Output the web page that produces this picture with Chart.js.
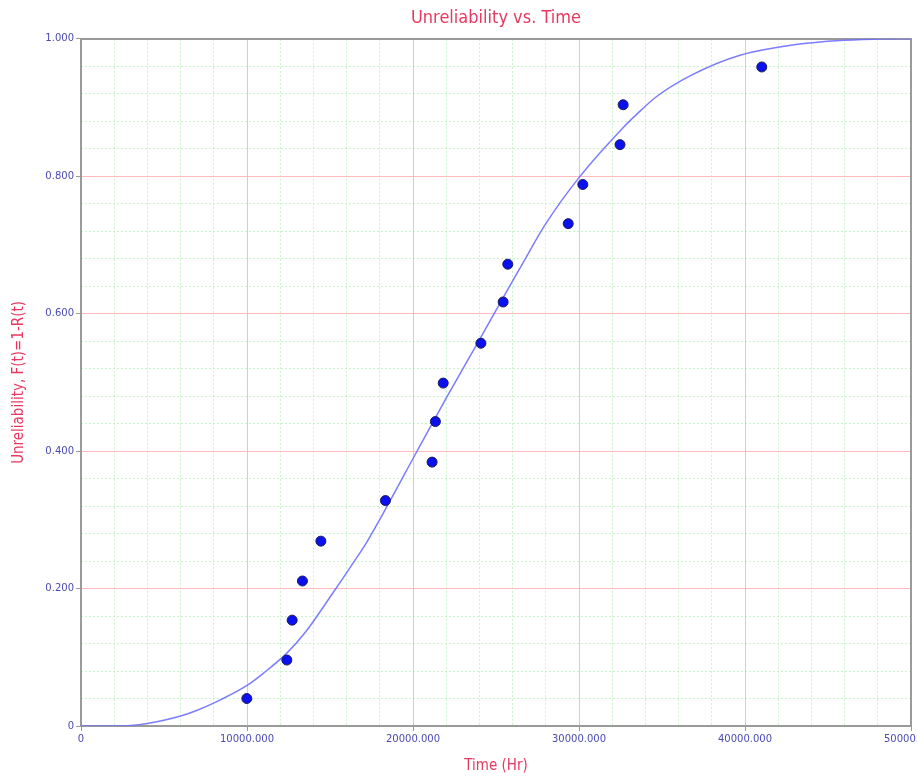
<!DOCTYPE html>
<html>
<head>
<meta charset="utf-8">
<script src="https://cdn.jsdelivr.net/npm/chart.js@4/dist/chart.umd.min.js"></script>
<style>
  html, body { margin: 0; padding: 0; background: #ffffff; }
  #wrap { width: 917px; height: 778px; position: relative; }
</style>
</head>
<body>
<div id="wrap"><canvas id="c"></canvas></div>
<script>
// ---- Data ----
const failureTimes = [9990, 12400, 12720, 13340, 14450, 18340, 21150, 21350, 21820, 24090, 25430, 25710, 29350, 30230, 32470, 32660, 41010];
const unreliability = [0.040, 0.096, 0.154, 0.211, 0.269, 0.328, 0.384, 0.443, 0.499, 0.557, 0.617, 0.672, 0.731, 0.788, 0.846, 0.904, 0.959];

const curveTimes = [0, 2300, 3500, 5000, 6000, 7000, 8400, 10000, 11000, 12400, 13500, 15100, 16500, 17200, 18400, 20200, 22000, 24000, 25400, 26600, 28000, 30000, 32670, 33470, 34680, 36690, 39700, 43700, 47700, 50000];
const curveF     = [0, 0, 0.002, 0.0085, 0.0145, 0.023, 0.038, 0.059, 0.077, 0.106, 0.136, 0.191, 0.241, 0.267, 0.318, 0.398, 0.477, 0.562, 0.622, 0.673, 0.731, 0.798, 0.871, 0.890, 0.916, 0.946, 0.976, 0.9935, 0.9995, 1.0];

const xMajorTicks = [0, 10000, 20000, 30000, 40000, 50000];
const yMajorTicks = [0, 0.2, 0.4, 0.6, 0.8, 1.0];

const titleText = 'Unreliability vs. Time';
const xTitle = 'Time (Hr)';
const yTitle = 'Unreliability, F(t)=1-R(t)';

// ---- Styling ----
const TITLE_COLOR = '#e8385f';
const TICK_COLOR = '#4a4ab4';
const MAJOR_GRID = 'rgba(255,175,175,0.85)';
const MINOR_GRID = 'rgba(195,242,195,0.9)';
const FRAME = '#9a9a9a';
const CONDENSED = 'DejaVu Sans Condensed, DejaVu Sans';

function isMajorX(v) { return xMajorTicks.some(m => Math.abs(m - v) < 1e-6); }
function isMajorY(v) { return yMajorTicks.some(m => Math.abs(m - v) < 1e-6); }

function fixW(w) { return s => { s.width = w; s.paddingTop = 0; s.paddingBottom = 0; s.paddingLeft = 0; s.paddingRight = 0; }; }
function fixH(h) { return s => { s.height = h; s.paddingLeft = 0; s.paddingRight = 0; s.paddingTop = 0; s.paddingBottom = 0; }; }

const points = failureTimes.map((t, i) => ({ x: t, y: unreliability[i] }));
const curve = curveTimes.map((t, i) => ({ x: t, y: curveF[i] }));

new Chart(document.getElementById('c'), {
  type: 'scatter',
  data: {
    datasets: [
      {
        label: 'Data',
        data: points,
        pointRadius: 5,
        pointHoverRadius: 5,
        pointBackgroundColor: '#0a10ee',
        pointBorderColor: '#1a1a5a',
        pointBorderWidth: 1,
        showLine: false,
        xAxisID: 'x',
        yAxisID: 'y'
      },
      {
        label: 'Fit',
        data: curve,
        showLine: true,
        pointRadius: 0,
        borderColor: 'rgba(110,110,255,0.9)',
        borderWidth: 1.5,
        cubicInterpolationMode: 'monotone',
        fill: false,
        xAxisID: 'x',
        yAxisID: 'y'
      }
    ]
  },
  options: {
    responsive: true,
    maintainAspectRatio: false,
    animation: false,
    layout: { padding: { left: 0, right: 6, top: 0, bottom: 0 } },
    plugins: {
      legend: { display: false },
      tooltip: { enabled: false },
      title: {
        display: true,
        text: titleText,
        color: TITLE_COLOR,
        fullSize: false,
        font: { family: CONDENSED, size: 18, weight: 'normal', lineHeight: 1.1 },
        padding: { top: 8, bottom: 11 }
      }
    },
    scales: {
      xMinor: {
        type: 'linear', position: 'bottom', min: 0, max: 50000,
        ticks: { display: false, stepSize: 2000 },
        grid: { color: c => isMajorX(c.tick.value) ? 'rgba(0,0,0,0)' : MINOR_GRID, lineWidth: 1, drawTicks: false },
        border: { display: false, dash: [2, 2] },
        afterFit: fixH(0)
      },
      yMinor: {
        type: 'linear', position: 'left', min: 0, max: 1,
        ticks: { display: false, stepSize: 0.04 },
        grid: { color: c => isMajorY(c.tick.value) ? 'rgba(0,0,0,0)' : MINOR_GRID, lineWidth: 1, drawTicks: false },
        border: { display: false, dash: [2, 2] },
        afterFit: fixW(0)
      },
      xTop: {
        type: 'linear', position: 'top', min: 0, max: 50000,
        ticks: { display: false },
        grid: { display: false, drawTicks: false },
        border: { display: true, color: FRAME, width: 2 },
        afterFit: fixH(0)
      },
      yRight: {
        type: 'linear', position: 'right', min: 0, max: 1,
        ticks: { display: false },
        grid: { display: false, drawTicks: false },
        border: { display: true, color: FRAME, width: 2 },
        afterFit: fixW(0)
      },
      x: {
        type: 'linear', position: 'bottom', min: 0, max: 50000,
        afterBuildTicks: s => { s.ticks = xMajorTicks.map(v => ({ value: v })); },
        ticks: {
          color: TICK_COLOR,
          font: { family: 'DejaVu Sans', size: 10 },
          padding: 2,
          maxRotation: 0,
          autoSkip: false,
          callback: v => v === 0 ? '0' : v.toFixed(3)
        },
        grid: { color: c => c.tick && c.tick.value === 0 ? 'rgba(0,0,0,0)' : MAJOR_GRID, lineWidth: 1, drawTicks: true, tickLength: 5, tickColor: FRAME },
        border: { display: true, color: FRAME, width: 2 },
        title: {
          display: true, text: xTitle, color: TITLE_COLOR,
          font: { family: CONDENSED, size: 15 },
          padding: { top: 0, bottom: 3 }
        },
        afterFit: fixH(52)
      },
      y: {
        type: 'linear', position: 'left', min: 0, max: 1,
        afterBuildTicks: s => { s.ticks = yMajorTicks.map(v => ({ value: v })); },
        ticks: {
          color: TICK_COLOR,
          font: { family: 'DejaVu Sans', size: 10 },
          padding: 2,
          autoSkip: false,
          callback: v => v === 0 ? '0' : v.toFixed(3)
        },
        grid: { color: c => c.tick && c.tick.value === 0 ? 'rgba(0,0,0,0)' : MAJOR_GRID, lineWidth: 1, drawTicks: true, tickLength: 5, tickColor: FRAME },
        border: { display: true, color: FRAME, width: 2 },
        title: {
          display: true, text: yTitle, color: TITLE_COLOR,
          font: { family: CONDENSED, size: 15 },
          padding: { top: 10, bottom: 0 }
        },
        afterFit: fixW(81)
      }
    }
  }
});
</script>
</body>
</html>
